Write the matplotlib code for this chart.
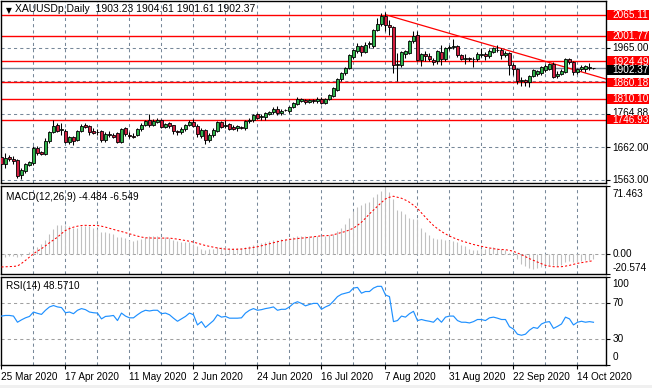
import matplotlib
matplotlib.use('Agg')
import matplotlib.pyplot as plt
from matplotlib.transforms import blended_transform_factory
from matplotlib.patches import Rectangle

plt.rcParams['font.family'] = ['Liberation Sans', 'DejaVu Sans']

# ---------------- data ----------------
opens = [1633,1613,1634,1626,1623,1577,1590,1610,1614,1659,1648,1642,1682,1709,1730,1715,1713,1680,1695,1686,
         1711,1730,1727,1712,1710,1712,1686,1702,1700,1706,1680,1720,1700,1698,1700,1717,1730,1747,1730,1741,
         1745,1725,1735,1729,1712,1708,1718,1730,1741,1728,1697,1715,1685,1700,1713,1739,1727,1732,1725,1722,
         1725,1720,1742,1745,1763,1755,1754,1765,1770,1780,1766,1775,1772,1784,1794,1804,1806,1800,1806,1802,
         1809,1797,1809,1818,1837,1870,1888,1903,1937,1955,1971,1953,1976,1970,2019,2038,2062,2035,2028,1912,
         1913,1946,1950,1986,2004,1929,1947,1940,1929,1925,1954,1930,1966,1968,1970,1943,1932,1934,1931,1930,
         1944,1946,1940,1954,1958,1960,1944,1950,1912,1900,1863,1868,1861,1880,1885,1888,1898,1902,1915,1878,
         1887,1893,1930,1922,1891,1900,1902,1904,1903.23]
highs = [1640,1645,1640,1635,1627,1600,1616,1622,1665,1668,1652,1690,1712,1745,1735,1737,1718,1698,1698,1715,
         1732,1735,1730,1720,1718,1716,1708,1712,1705,1710,1722,1725,1710,1705,1720,1735,1747,1765,1748,1751,
         1748,1736,1738,1731,1716,1723,1734,1745,1748,1732,1722,1718,1705,1722,1742,1743,1745,1735,1730,1729,
         1728,1747,1752,1765,1768,1763,1770,1774,1785,1789,1778,1778,1788,1799,1817,1812,1810,1810,1808,1815,
         1815,1812,1825,1847,1872,1892,1907,1945,1962,1981,1975,1984,1985,2024,2055,2070,2075,2050,2032,1950,
         1955,1960,1990,2015,2015,1950,1955,1948,1935,1960,1975,1968,1973,1992,1973,1946,1945,1938,1937,1952,
         1966,1952,1962,1968,1973,1964,1955,1953,1918,1903,1875,1870,1884,1900,1898,1910,1917,1920,1921,1894,
         1900,1933,1933,1925,1903,1913,1912,1919,1904.61]
lows = [1595,1600,1620,1612,1568,1567,1585,1605,1610,1640,1638,1639,1675,1705,1708,1700,1675,1673,1670,1683,
        1708,1720,1700,1703,1700,1680,1678,1695,1690,1676,1677,1698,1692,1690,1696,1713,1726,1725,1726,1735,
        1720,1720,1722,1703,1700,1704,1712,1726,1724,1695,1692,1672,1680,1695,1710,1720,1722,1715,1716,1711,
        1717,1716,1735,1740,1748,1745,1745,1762,1765,1762,1762,1772,1768,1781,1790,1800,1795,1797,1798,1796,
        1793,1795,1806,1815,1833,1865,1883,1900,1932,1950,1940,1948,1965,1966,2015,2033,2015,2005,1890,1863,
        1908,1935,1945,1980,1925,1910,1925,1925,1912,1915,1912,1925,1960,1962,1937,1927,1917,1924,1907,1925,
        1936,1928,1935,1950,1953,1930,1938,1882,1883,1854,1849,1850,1847,1876,1880,1882,1893,1898,1873,1873,
        1882,1890,1917,1883,1887,1895,1893,1897,1901.61]
closes = [1613,1629,1626,1620,1575,1593,1612,1617,1661,1646,1642,1682,1709,1727,1713,1717,1680,1693,1683,1711,
          1727,1725,1708,1707,1708,1684,1703,1699,1695,1680,1717,1702,1697,1694,1717,1730,1743,1730,1743,1745,
          1725,1733,1727,1712,1708,1718,1730,1740,1728,1702,1715,1685,1700,1715,1738,1724,1731,1719,1719,1726,
          1722,1742,1745,1760,1752,1759,1767,1770,1780,1766,1774,1776,1784,1796,1808,1808,1800,1806,1802,1809,
          1796,1809,1822,1842,1869,1888,1903,1943,1959,1971,1953,1974,1981,2019,2038,2062,2035,2028,1912,1915,
          1952,1955,1986,2001,1929,1947,1940,1930,1922,1955,1930,1965,1968,1970,1943,1930,1934,1930,1932,1947,
          1946,1940,1956,1964,1960,1944,1950,1912,1900,1863,1868,1861,1880,1897,1895,1906,1910,1915,1877,1886,
          1896,1930,1922,1891,1901,1908,1910,1906,1902.37]

macd_main = [-3,-3,-2,-1.5,-3,-2,0,2,4.2,7.7,11.2,15.3,21.6,26.8,31.3,31.3,31.3,29.6,27.9,27.9,
             29.6,30.3,29.6,27.9,26.8,24,23.3,22.3,21.2,18.1,18.1,17.1,14.6,13.6,14.6,16.4,17.8,19.2,19.2,19.2,
             18.1,18.1,17.1,14.6,13.6,12.9,12.9,12.9,11.1,8.4,6,4.9,5.2,6,7.7,7.3,7.7,7,6.7,6.7,
             7,7.7,8.7,10.1,11.1,11.8,12.9,13.9,14.6,15.3,15.7,16.4,17.1,17.8,18.8,19.2,19.2,19.2,19.2,19.2,
             19.5,19.8,20.6,21.6,24.4,27.5,32,38,46,49.5,52,54,55.4,60,63.4,66.9,71.4,65.8,58.2,47,
             46,42.5,38,37.3,37.3,27.5,24,19.9,17.1,15.7,15.7,14.6,14.6,13.6,12.9,10.1,8.4,6,4.2,4.9,
             6,6,7,7.7,7,6,4.9,1.8,-0.3,-5.2,-9.7,-12.2,-14.2,-14.9,-14.2,-13.2,-12.2,-10.8,-10.8,-12.2,
             -10.8,-8,-7.3,-8,-8,-7,-6.3,-5.6,-4.484]
macd_signal = [-13.2,-13.0,-12.9,-12.6,-12.2,-9.5,-6.3,-2.8,0.7,3.5,6.0,9.0,12.2,15.2,18.1,21.8,25.1,27.0,28.6,29.6,
               30.3,30.5,30.3,30.4,30.3,29.6,28.6,27.4,26.2,25.0,24.0,22.8,21.6,20.4,19.2,18.2,17.4,17.2,17.1,17.1,
               17.1,17.1,17.1,16.6,16.0,15.3,14.6,13.8,12.9,11.7,10.4,9.3,8.4,7.5,6.7,6.1,5.6,5.4,5.3,5.4,
               5.6,6.1,6.7,7.3,8.0,9.0,10.1,11.2,12.2,13.3,14.3,15.0,15.7,16.2,16.7,17.1,17.4,18.0,18.5,19.0,
               19.5,19.7,19.8,20.6,21.8,23.0,24.0,25.8,27.5,30.5,33.8,38.0,42.5,46.5,50.5,54.5,58.2,60.0,61.0,60.0,
               58.9,57.0,54.7,51.5,48.4,43.5,39.0,34.5,30.3,27.0,24.0,21.5,19.2,17.4,15.7,14.2,12.9,11.6,10.4,9.4,
               8.4,7.5,6.7,6.0,5.3,5.1,4.9,4.2,3.2,1.5,-0.3,-2.4,-4.5,-6.3,-8.0,-9.8,-11.5,-12.3,-12.9,-13.0,
               -12.9,-12.3,-11.5,-10.5,-9.4,-8.7,-8.0,-7.2,-6.549]
rsi = [55.6,56.3,56.3,55.6,48.6,51.3,53.6,55.2,60.2,58.7,57.5,62.2,66,67.6,66,65.3,59.4,60.2,58.3,62.2,
       64.1,62.9,60.2,59.4,59,52.4,55.2,55.6,56.3,50.5,59,55.6,53.6,53.6,57.1,60.2,62.2,61.4,62.2,62.2,
       58.3,59,57.1,53.2,49.7,52.4,55.2,59,57.1,45.5,49.3,42.7,46.6,50.5,57.1,54.4,55.2,53.2,53.2,53.2,
       53.6,59,62.2,64.1,62.2,62.9,64.1,64.9,66,62.2,63.3,63.3,66,70,71.9,70,67.2,68.8,70,70,
       63.3,66,68,72.6,77.7,80.4,81.6,82.8,87.4,88.2,81.6,83.5,83.5,87.4,89.4,89.4,79.6,77.7,49.3,50.5,
       55.6,54.4,58.3,61,50.5,51.7,50.5,49.7,48.6,53.2,48.6,54.4,55.6,55.6,50.5,48.6,48.6,47.8,49.3,51.7,
       51.7,50.5,53.6,54.4,53.2,51.7,51.7,43.5,40.8,35,33.8,35,39.6,42.7,41.6,46.6,48.6,49.3,41.6,43.9,
       46.6,54.4,52.4,45.5,48.6,49.7,48.6,49.3,48.571]

date_labels = ['25 Mar 2020', '17 Apr 2020', '11 May 2020', '2 Jun 2020', '24 Jun 2020',
               '16 Jul 2020', '7 Aug 2020', '31 Aug 2020', '22 Sep 2020', '14 Oct 2020']
date_label_idx = [0, 16, 32, 48, 64, 80, 96, 112, 128, 144]

red_levels = [2065.11, 2001.77, 1924.49, 1860.18, 1810.10, 1746.93]
grid_levels = [1965.00, 1864.88, 1764.88, 1662.00, 1563.00]
grid_labels = [1965.00, 1764.88, 1662.00, 1563.00]
current_price = 1902.37
trend_x = [96, 151.2]
trend_y = [2066.0, 1870.0]

macd_max, macd_min = 71.463, -20.574
rsi_levels = [70, 30]

title_text = 'XAUUSDp,Daily  1903.23 1904.61 1901.61 1902.37'
macd_text = 'MACD(12,26,9) -4.484 -6.549'
rsi_text = 'RSI(14) 48.5710'

# ---------------- layout ----------------
W, H = 652, 388
fig = plt.figure(figsize=(W / 100, H / 100), dpi=100)
fig.patch.set_facecolor('white')
fig.patches.append(Rectangle((0, 0), 1, 3 / H, transform=fig.transFigure,
                             facecolor='#f0f0f0', edgecolor='none'))

def box(l, t, r, b):
    return [l / W, 1 - b / H, (r - l) / W, (b - t) / H]

ax_main = fig.add_axes(box(1, 1, 606, 183))
ax_macd = fig.add_axes(box(1, 186, 606, 274))
ax_rsi = fig.add_axes(box(1, 277, 606, 365))

n = len(closes)
xs = list(range(n))
xlim = (-0.12, 151.13)
grid_col = '#778899'
FS = 7.2
CAP_PX = 6.6   # approximate digit height in pixels at FS

for ax in (ax_main, ax_macd, ax_rsi):
    ax.set_xlim(*xlim)
    for s in ax.spines.values():
        s.set_color('black')
        s.set_linewidth(1.0)
    for k in range(1, 19):
        ax.axvline(8 * k, color=grid_col, lw=0.75, ls=(0, (3, 3)), zorder=0.5)
    ax.yaxis.tick_right()
    ax.tick_params(axis='y', length=3, width=0.8, color='black', labelright=False, labelleft=False)
    ax.tick_params(axis='x', bottom=False, labelbottom=False)

# ---- main price panel ----
ymin, ymax = 1553.9, 2107.7
ax_main.set_ylim(ymin, ymax)
px_per_unit = 182 / (ymax - ymin)
for g in grid_levels:
    ax_main.axhline(g, color=grid_col, lw=0.75, ls=(0, (3, 3)), zorder=0.6)
ax_main.axhline(current_price, color=grid_col, lw=1.0, zorder=0.7)
for r in red_levels:
    ax_main.axhline(r, color='#ff0000', lw=1.0, zorder=1)
ax_main.plot(trend_x, trend_y, color='#ff0000', lw=0.9, zorder=1, solid_capstyle='butt')

ax_main.vlines(xs, lows, highs, color='black', lw=0.75, zorder=2)
up_col, dn_col = '#2fb24b', '#d11d3f'
for i in range(n):
    o, c = opens[i], closes[i]
    col = up_col if c >= o else dn_col
    h = abs(c - o)
    ax_main.bar(i, max(h, 0.01), bottom=min(o, c), width=0.62, color=col,
                edgecolor='black', linewidth=0.6, zorder=3)

ax_main.set_yticks([2065.11, 2001.77, 1965.00, 1924.49, 1902.37, 1860.18, 1810.10, 1764.88,
                    1746.93, 1662.00, 1563.00])
tr = blended_transform_factory(ax_main.transAxes, ax_main.transData)
lx = 1.0105
box_h = 9.6 / px_per_unit          # label box height in price units
box_x0 = 1.0015
box_w = 42 / 605
base_off = (CAP_PX / 2) / px_per_unit


def boxed_label(val, text, face, shift_px=0.0):
    yc = val - shift_px / px_per_unit
    ax_main.add_patch(Rectangle((box_x0, yc - box_h / 2), box_w, box_h, transform=tr,
                                facecolor=face, edgecolor='none', clip_on=False, zorder=6))
    ax_main.text(lx, yc - base_off, text, transform=tr, fontsize=FS, va='baseline', ha='left',
                 color='white', clip_on=False, zorder=7)


for g in grid_labels:
    ax_main.text(lx, g - base_off + (4 if g == 1764.88 else 0), f'{g:.2f}', transform=tr,
                 fontsize=FS, va='baseline', ha='left', color='black', clip_on=False, zorder=5)
for r in red_levels:
    boxed_label(r, f'{r:.2f}', '#ff0000')
boxed_label(current_price, f'{current_price:.2f}', 'black', shift_px=1.5)

ax_main.text(0.008, 0.975, '\u25bc', transform=ax_main.transAxes, fontsize=5.5, va='top',
             ha='left', family='DejaVu Sans')
ax_main.text(0.023, 0.985, title_text, transform=ax_main.transAxes, fontsize=7.5, va='top', ha='left')

# ---- MACD panel ----
ax_macd.set_ylim(macd_min, macd_max + 0.3)
ax_macd.vlines(xs, 0, macd_main, color='#c0c0c0', lw=0.8, zorder=2)
ax_macd.axhline(0, color='#a0a0a0', lw=0.75, ls=(0, (3, 3)), zorder=1)
ax_macd.plot(xs, macd_signal, color='#ff0000', lw=0.75, ls=(0, (2, 2)), zorder=3)
ax_macd.set_yticks([macd_max, 0, macd_min])
trm = blended_transform_factory(ax_macd.transAxes, ax_macd.transData)
ax_macd.text(lx, macd_max - 2.5, f'{macd_max:.3f}', transform=trm, fontsize=FS, va='top', ha='left', clip_on=False)
ax_macd.text(lx, 0, '0.00', transform=trm, fontsize=FS, va='center', ha='left', clip_on=False)
ax_macd.text(lx, macd_min + 0.8, f'{macd_min:.3f}', transform=trm, fontsize=FS, va='bottom', ha='left', clip_on=False)
ax_macd.text(0.008, 0.93, macd_text, transform=ax_macd.transAxes, fontsize=FS, va='top', ha='left')

# ---- RSI panel ----
ax_rsi.set_ylim(0, 100)
for lv in rsi_levels:
    ax_rsi.axhline(lv, color='#a0a0a0', lw=0.75, ls=(0, (3, 3)), zorder=1)
ax_rsi.plot(xs, rsi, color='#1e90ff', lw=0.85, zorder=3)
ax_rsi.set_yticks([100, 70, 30, 0])
trr = blended_transform_factory(ax_rsi.transAxes, ax_rsi.transData)
ax_rsi.text(lx, 98, '100', transform=trr, fontsize=FS, va='top', ha='left', clip_on=False)
ax_rsi.text(lx, 70, '70', transform=trr, fontsize=FS, va='center', ha='left', clip_on=False)
ax_rsi.text(lx, 30, '30', transform=trr, fontsize=FS, va='center', ha='left', clip_on=False)
ax_rsi.text(lx, 3, '0', transform=trr, fontsize=FS, va='bottom', ha='left', clip_on=False)
ax_rsi.text(0.008, 0.96, rsi_text, transform=ax_rsi.transAxes, fontsize=FS, va='top', ha='left')

ax_rsi.set_xticks(date_label_idx)
ax_rsi.set_xticklabels(date_labels, ha='left', fontsize=FS)
ax_rsi.tick_params(axis='x', bottom=True, labelbottom=True, length=3, width=0.8, pad=2)

fig.savefig('out.png', dpi=100, facecolor='white')
